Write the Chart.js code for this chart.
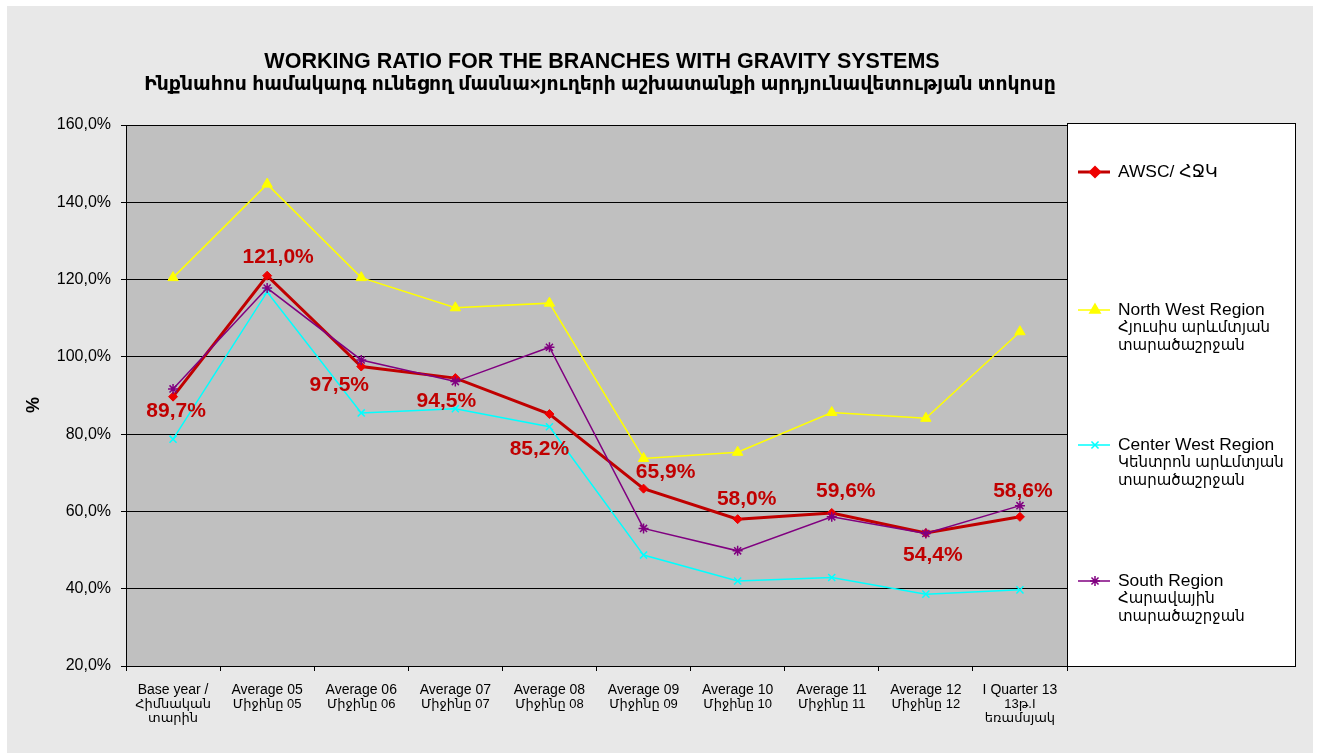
<!DOCTYPE html>
<html>
<head>
<meta charset="utf-8">
<script src="https://cdn.jsdelivr.net/npm/chart.js@4/dist/chart.umd.min.js"></script>
<style>
html,body{margin:0;padding:0;background:#fff;}
canvas{display:block;}
</style>
</head>
<body>
<canvas id="c" width="1319" height="753"></canvas>
<script>
const categories = [
  ["Base year /", "Հիմնական", "տարին"],
  ["Average 05", "Միջինը 05"],
  ["Average 06", "Միջինը 06"],
  ["Average 07", "Միջինը 07"],
  ["Average 08", "Միջինը 08"],
  ["Average 09", "Միջինը 09"],
  ["Average 10", "Միջինը 10"],
  ["Average 11", "Միջինը 11"],
  ["Average 12", "Միջինը 12"],
  ["I Quarter 13", "13թ.I", "եռամսյակ"]
];
const awsc       = [89.7, 121.0, 97.5, 94.5, 85.2, 65.9, 58.0, 59.6, 54.4, 58.6];
const northWest  = [120.5, 144.7, 120.5, 112.7, 113.9, 73.7, 75.3, 85.6, 84.1, 106.5];
const centerWest = [78.7, 116.8, 85.5, 86.6, 81.9, 48.7, 42.0, 42.9, 38.6, 39.7];
const south      = [91.7, 117.8, 99.2, 93.6, 102.5, 55.6, 49.8, 58.6, 54.3, 61.5];
const seriesNames = [
  ["AWSC/ ՀՋԿ"],
  ["North West Region", "Հյուսիս արևմտյան", "տարածաշրջան"],
  ["Center West Region", "Կենտրոն արևմտյան", "տարածաշրջան"],
  ["South Region", "Հարավային", "տարածաշրջան"]
];
const yMin = 20, yMax = 160, yStep = 20;
const titleLines = [
  "WORKING RATIO FOR THE BRANCHES WITH GRAVITY SYSTEMS",
  "Ինքնահոս համակարգ ունեցող մասնա×յուղերի աշխատանքի արդյունավետության տոկոսը"
];
const axisTitle = "%";

const FONT = "'Liberation Sans', 'DejaVu Sans', Arial, sans-serif";
const fmt = v => v.toFixed(1).replace('.', ',') + '%';
const isArmenianLine = t => /[\u0530-\u058F]/.test(t) && !/[A-Za-z]{3}/.test(t);

// label placement around each AWSC point (dx, dy of label centre)
const labelOffsets = [[3,15],[11,-19],[-22,19],[-9,23],[-10,35],[22,-16],[9,-20],[14,-22],[7,22],[3,-26]];

const decor = {
  id: 'decor',
  beforeDraw(chart) {
    const ctx = chart.ctx, a = chart.chartArea;
    ctx.save();
    ctx.fillStyle = '#ffffff';
    ctx.fillRect(0, 0, chart.width, chart.height);
    ctx.fillStyle = '#e8e8e8';
    ctx.fillRect(7, 6, 1306, 747);
    ctx.fillStyle = '#c0c0c0';
    ctx.fillRect(a.left, a.top, a.right - a.left, a.bottom - a.top);
    ctx.restore();
  },
  afterDatasetsDraw(chart) {
    const ctx = chart.ctx;
    const meta = chart.getDatasetMeta(0);
    ctx.save();
    ctx.font = "bold 21px " + FONT;
    ctx.fillStyle = '#c00000';
    ctx.textAlign = 'center';
    ctx.textBaseline = 'middle';
    meta.data.forEach((pt, i) => {
      const o = labelOffsets[i];
      ctx.fillText(fmt(awsc[i]), pt.x + o[0], pt.y + o[1]);
    });
    ctx.restore();
  },
  afterDraw(chart) {
    const ctx = chart.ctx, a = chart.chartArea;
    ctx.save();
    // title
    ctx.fillStyle = '#000';
    ctx.textAlign = 'center';
    ctx.textBaseline = 'middle';
    ctx.font = "bold 21.5px " + FONT;
    ctx.fillText(titleLines[0], 602, 62);
    ctx.font = "bold 18.8px " + FONT;
    ctx.fillText(titleLines[1], 600, 85);
    // x category labels
    const xs = chart.scales.x;
    ctx.textBaseline = 'middle';
    categories.forEach((lines, i) => {
      const x = xs.getPixelForValue(i);
      lines.forEach((t, k) => {
        ctx.font = (isArmenianLine(t) ? "13px " : "14px ") + FONT;
        ctx.fillText(t, x, 690 + k * 14);
      });
    });
    // axis title
    ctx.save();
    ctx.translate(34, 405);
    ctx.rotate(-Math.PI / 2);
    ctx.font = "bold 18px " + FONT;
    ctx.fillText(axisTitle, 0, 0);
    ctx.restore();
    // legend box
    const lx = a.right, ly = 123, lw = 228, lh = a.bottom - 123;
    ctx.fillStyle = '#fff';
    ctx.fillRect(lx, ly, lw, lh);
    ctx.strokeStyle = '#000';
    ctx.lineWidth = 1;
    ctx.strokeRect(lx + 0.5, ly + 0.5, lw, lh);
    const itemY = [172, 310, 445, 581];
    ctx.textAlign = 'left';
    ctx.textBaseline = 'middle';
    chart.data.datasets.forEach((ds, i) => {
      const y = itemY[i];
      ctx.strokeStyle = ds.borderColor;
      ctx.lineWidth = ds.borderWidth;
      ctx.beginPath();
      ctx.moveTo(lx + 11, y);
      ctx.lineTo(lx + 43, y);
      ctx.stroke();
      ctx.fillStyle = ds.pointBackgroundColor;
      ctx.strokeStyle = ds.pointBorderColor;
      Chart.helpers.drawPoint(ctx, {pointStyle: ds.pointStyle, radius: ds.pointRadius, rotation: 0, borderWidth: ds.pointBorderWidth}, lx + 28, y);
      ctx.fillStyle = '#000';
      seriesNames[i].forEach((t, k) => {
        ctx.font = (isArmenianLine(t) ? "15px " : "17.4px ") + FONT;
        ctx.fillText(t, lx + 51, y + k * 18);
      });
    });
    ctx.restore();
  }
};

new Chart(document.getElementById('c'), {
  type: 'line',
  data: {
    labels: categories,
    datasets: [
      {label: seriesNames[0].join(' '), data: awsc, borderColor: '#c00000', borderWidth: 3,
       pointStyle: 'rectRot', pointRadius: 4.5, pointBackgroundColor: '#ee0000', pointBorderColor: '#ee0000', pointBorderWidth: 1, order: 4},
      {label: seriesNames[1].join(' '), data: northWest, borderColor: '#ffff00', borderWidth: 1.5,
       pointStyle: 'triangle', pointRadius: 6, pointBackgroundColor: '#ffff00', pointBorderColor: '#ffff00', pointBorderWidth: 1, order: 3},
      {label: seriesNames[2].join(' '), data: centerWest, borderColor: '#00ffff', borderWidth: 1.5,
       pointStyle: 'crossRot', pointRadius: 5, pointBackgroundColor: '#00ffff', pointBorderColor: '#00ffff', pointBorderWidth: 1.5, order: 2},
      {label: seriesNames[3].join(' '), data: south, borderColor: '#800080', borderWidth: 1.5,
       pointStyle: 'star', pointRadius: 5, pointBackgroundColor: '#800080', pointBorderColor: '#800080', pointBorderWidth: 1.5, order: 1}
    ]
  },
  options: {
    responsive: false,
    animation: false,
    events: [],
    layout: {padding: {top: 125, right: 252, left: 0, bottom: 0}},
    elements: {line: {tension: 0}},
    plugins: {legend: {display: false}, title: {display: false}, tooltip: {enabled: false}},
    scales: {
      x: {
        offset: true,
        afterFit(s) { s.height = 87; },
        grid: {display: true, offset: true, drawOnChartArea: false, drawTicks: true, tickLength: 5, color: '#000'},
        border: {display: true, color: '#000', width: 1},
        ticks: {display: false, autoSkip: false}
      },
      y: {
        min: yMin, max: yMax,
        afterFit(s) { s.width = 126; },
        grid: {color: '#000', lineWidth: 1, tickLength: 5},
        border: {display: true, color: '#000', width: 1},
        ticks: {stepSize: yStep, color: '#000', font: {family: FONT, size: 16}, padding: 10, callback: v => fmt(v)}
      }
    }
  },
  plugins: [decor]
});
</script>
</body>
</html>
